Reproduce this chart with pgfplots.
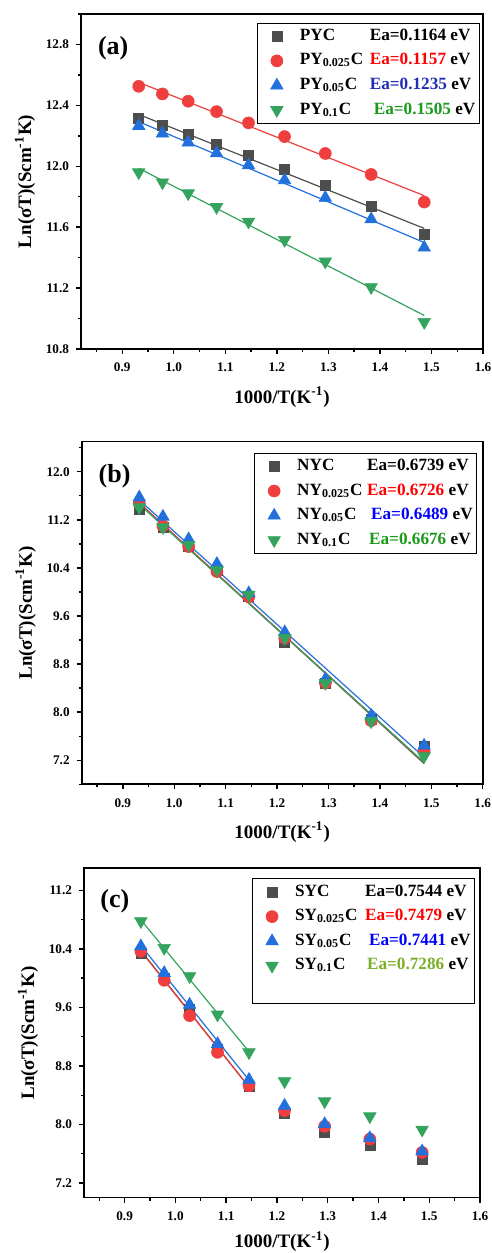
\documentclass[border=0pt]{standalone}
\usepackage{pgfplots}
\pgfplotsset{compat=1.18}
\usepackage{fontspec}
\setmainfont{Liberation Serif}

\definecolor{cK}{HTML}{4D4D4D}
\definecolor{cR}{HTML}{EF3E3E}
\definecolor{cB}{HTML}{2170DE}
\definecolor{cG}{HTML}{34A35E}
\definecolor{tR}{HTML}{FF0000}
\definecolor{tBa}{HTML}{1F2DB8}
\definecolor{tB}{HTML}{0000FF}
\definecolor{tG}{HTML}{1A991A}
\definecolor{tGc}{HTML}{7AAF28}

\pgfplotsset{
 myaxis/.style={
  scale only axis,
  xmin=0.82, xmax=1.6,
  xtick={0.9,1.0,1.1,1.2,1.3,1.4,1.5,1.6},
  minor xtick={0.85,0.95,1.05,1.15,1.25,1.35,1.45,1.55},
  tick align=outside, tick pos=left,
  major tick length=2.5pt, minor tick length=1.6pt,
  axis line style={line width=0.8pt},
  every tick/.style={line width=0.7pt, black},
  tick label style={font=\fontsize{6.6}{7}\selectfont\bfseries},
  xticklabel style={yshift=-1pt},
  /pgf/number format/.cd, fixed, fixed zerofill, precision=1, assume math mode=true, /pgfplots/.cd,
  xlabel={1000/T(K\textsuperscript{-1})},
  ylabel={Ln(σT)(Scm\textsuperscript{-1}K)},
  every axis x label/.style={at={(rel axis cs:0.5,0)}, anchor=center, yshift=-24pt, font=\fontsize{9.5}{11}\selectfont\bfseries},
  every axis y label/.style={at={(rel axis cs:0,0.5)}, anchor=center, rotate=90, yshift=28pt, font=\fontsize{9.5}{11}\selectfont\bfseries},
  legend cell align=left,
  legend style={at={(rel axis cs:1,1)}, anchor=north east, draw=black, line width=0.6pt,
    font=\fontsize{8.6}{9}\selectfont\bfseries, inner xsep=1.2pt, inner ysep=1.5pt,
    row sep=2.2pt, column sep=2.2pt,
    nodes={inner sep=0.8pt, text height=6.3pt, text depth=2.2pt}},
  legend image code/.code={\path (0pt,0pt) (16.4pt,0pt);\draw[mark repeat=2,mark phase=2,#1] plot coordinates {(0pt,0pt) (8.2pt,0pt) (16.4pt,0pt)};},
 },
 fitline/.style={no marks, line width=0.6pt, forget plot},
 mK/.style={only marks, mark=square*, mark size=2.5pt, color=cK, mark options={line width=0.3pt}},
 mR/.style={only marks, mark=*, mark size=3pt, color=cR, mark options={line width=0.3pt}},
 mB/.style={only marks, mark=triangle*, mark size=3.6pt, color=cB, mark options={line width=0.3pt}},
 mG/.style={only marks, mark=triangle*, mark size=3.6pt, color=cG, mark options={rotate=180, line width=0.3pt}},
}
\newcommand{\nm}[1]{\makebox[35pt][l]{#1}}

\begin{document}
\begin{tikzpicture}
\path[use as bounding box] (0,0) rectangle (246pt,626.5pt);

% ---------------- (a) ----------------
\begin{axis}[myaxis, at={(40.5pt,452pt)}, anchor=south west, width=201pt, height=167.5pt,
  ymin=10.8, ymax=13.0,
  ytick={10.8,11.2,11.6,12.0,12.4,12.8},
  minor ytick={11.0,11.4,11.8,12.2,12.6,13.0},
  legend style={xshift=-1.5pt, yshift=-4.3pt}]
\addplot[fitline, cK] coordinates {(0.932,12.340) (1.486,11.592)};
\addplot[fitline, cR] coordinates {(0.932,12.551) (1.486,11.807)};
\addplot[fitline, cB] coordinates {(0.932,12.293) (1.486,11.499)};
\addplot[fitline, cG] coordinates {(0.932,11.987) (1.486,11.020)};
\addplot[mK] table {
0.932 12.313
0.978 12.270
1.028 12.208
1.083 12.145
1.145 12.071
1.215 11.981
1.294 11.872
1.383 11.734
1.486 11.555
};
\addlegendentry{\nm{PYC}Ea=0.1164 eV}
\addplot[mR] table {
0.932 12.525
0.978 12.475
1.028 12.427
1.083 12.359
1.145 12.285
1.215 12.195
1.294 12.084
1.383 11.946
1.486 11.765
};
\addlegendentry{\nm{PY\textsubscript{0.025}C}\textcolor{tR}{Ea=0.1157} eV}
\addplot[mB] table {
0.932 12.265
0.978 12.215
1.028 12.156
1.083 12.086
1.145 12.007
1.215 11.909
1.294 11.793
1.383 11.652
1.486 11.466
};
\addlegendentry{\nm{PY\textsubscript{0.05}C}\textcolor{tBa}{Ea=0.1235} eV}
\addplot[mG] table {
0.932 11.960
0.978 11.894
1.028 11.822
1.083 11.732
1.145 11.636
1.215 11.516
1.294 11.374
1.383 11.206
1.486 10.977
};
\addlegendentry{\nm{PY\textsubscript{0.1}C}\hspace{2pt}\textcolor{tG}{Ea=0.1505} eV}
\node[anchor=west, font=\fontsize{13}{14}\selectfont\bfseries, inner sep=0pt] at (rel axis cs:0,1) [xshift=8.3pt, yshift=-17pt] {(a)};
\end{axis}

% ---------------- (b) ----------------
\begin{axis}[myaxis, at={(40.85pt,234.35pt)}, anchor=south west, width=200.5pt, height=171.3pt,
  ymin=6.8, ymax=12.5,
  ytick={7.2,8.0,8.8,9.6,10.4,11.2,12.0},
  minor ytick={6.8,7.6,8.4,9.2,10.0,10.8,11.6,12.4},
  legend style={xshift=-2.7pt, yshift=-5.5pt}]
\addplot[fitline, cK] coordinates {(0.932,11.478) (1.486,7.145)};
\addplot[fitline, cR] coordinates {(0.932,11.482) (1.486,7.158)};
\addplot[fitline, cB] coordinates {(0.932,11.530) (1.486,7.250)};
\addplot[fitline, cG] coordinates {(0.932,11.458) (1.486,7.166)};
\addplot[mK] table {
0.932 11.375
0.978 11.076
1.028 10.755
1.083 10.367
1.145 9.924
1.215 9.160
1.294 8.474
1.383 7.876
1.486 7.433
};
\addlegendentry{\nm{NYC}Ea=0.6739 eV}
\addplot[mR] table {
0.932 11.470
0.978 11.098
1.028 10.755
1.083 10.340
1.145 9.920
1.215 9.230
1.294 8.485
1.383 7.860
1.486 7.350
};
\addlegendentry{\nm{NY\textsubscript{0.025}C}\textcolor{tR}{Ea=0.6726} eV}
\addplot[mB] table {
0.932 11.574
0.978 11.253
1.028 10.877
1.083 10.467
1.145 9.980
1.215 9.330
1.294 8.551
1.383 7.942
1.486 7.444
};
\addlegendentry{\nm{NY\textsubscript{0.05}C}\hspace{2pt}\textcolor{tB}{Ea=0.6489} eV}
\addplot[mG] table {
0.932 11.408
0.978 11.076
1.028 10.782
1.083 10.367
1.145 9.952
1.215 9.232
1.294 8.485
1.383 7.848
1.486 7.266
};
\addlegendentry{\nm{NY\textsubscript{0.1}C}\hspace{1pt}\textcolor{tG}{Ea=0.6676} eV}
\node[anchor=west, font=\fontsize{13}{14}\selectfont\bfseries, inner sep=0pt] at (rel axis cs:0,1) [xshift=8.3pt, yshift=-17.5pt] {(b)};
\end{axis}

% ---------------- (c) ----------------
\begin{axis}[myaxis, at={(42pt,27.65pt)}, anchor=south west, width=198pt, height=164.7pt,
  ymin=7.0, ymax=11.5,
  ytick={7.2,8.0,8.8,9.6,10.4,11.2},
  minor ytick={7.6,8.4,9.2,10.0,10.8},
  every axis x label/.append style={yshift=2pt},
  legend style={xshift=-2.4pt, yshift=-5pt}]
\addplot[fitline, cK] coordinates {(0.932,10.377) (1.145,8.512)};
\addplot[fitline, cR] coordinates {(0.932,10.370) (1.145,8.510)};
\addplot[fitline, cB] coordinates {(0.932,10.445) (1.145,8.606)};
\addplot[fitline, cG] coordinates {(0.932,10.796) (1.145,8.995)};
\addplot[mK] table {
0.932 10.343
0.978 10.002
1.028 9.569
1.083 9.022
1.145 8.521
1.215 8.157
1.294 7.897
1.383 7.710
1.486 7.528
};
\addlegendentry{\nm{SYC}Ea=0.7544 eV}
\addplot[mR] table {
0.932 10.366
0.978 9.970
1.028 9.487
1.083 8.986
1.145 8.530
1.215 8.189
1.294 7.975
1.383 7.801
1.486 7.619
};
\addlegendentry{\nm{SY\textsubscript{0.025}C}\textcolor{tR}{Ea=0.7479} eV}
\addplot[mB] table {
0.932 10.435
0.978 10.070
1.028 9.637
1.083 9.100
1.145 8.612
1.215 8.257
1.294 8.006
1.383 7.815
1.486 7.633
};
\addlegendentry{\nm{SY\textsubscript{0.05}C}\hspace{2pt}\textcolor{tB}{Ea=0.7441} eV}
\addplot[mG] table {
0.932 10.776
0.978 10.412
1.028 10.025
1.083 9.501
1.145 8.986
1.215 8.590
1.294 8.316
1.383 8.111
1.486 7.929
};
\addlegendentry{\nm{SY\textsubscript{0.1}C}\hspace{1pt}\textcolor{tGc}{Ea=0.7286} eV}
\addlegendimage{empty legend}
\addlegendentry{}
\node[anchor=west, font=\fontsize{13}{14}\selectfont\bfseries, inner sep=0pt] at (rel axis cs:0,1) [xshift=8pt, yshift=-16.7pt] {(c)};
\end{axis}
\end{tikzpicture}
\end{document}
